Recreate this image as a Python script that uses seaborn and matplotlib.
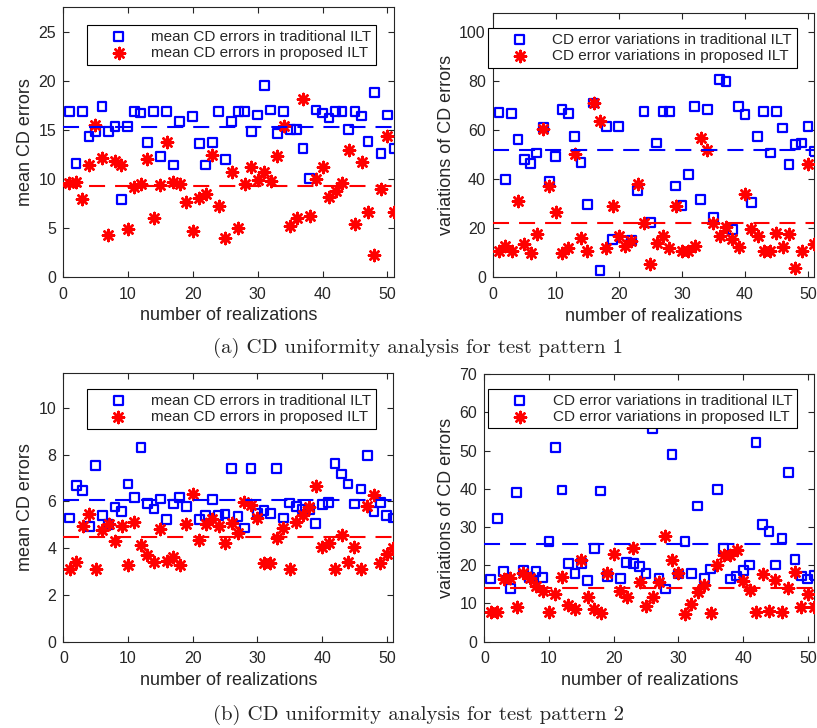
import numpy as np
import matplotlib.pyplot as plt
import seaborn as sns

nan = np.nan
realizations = np.arange(1, 52)

# pattern 1: mean CD errors
mean_trad_1 = [16.86, 11.53, 16.86, 14.3, 14.8, 17.4, 14.8, 15.3, 7.9, 15.3,
               16.86, 16.7, 13.7, 16.86, 12.3, 16.86, 11.4, 15.8, nan, 16.35,
               13.6, 11.4, 13.7, 16.86, 12.0, 15.8, 16.86, 16.86, 14.8, 16.5,
               19.5, 17.0, 14.65, 16.86, 15.0, 15.0, 13.1, 10.0, 17.0, 16.7,
               16.2, 16.86, 16.86, 15.0, 16.86, 16.4, 13.8, 18.8, 12.55, 16.5,
               13.1]
mean_prop_1 = [9.57, 9.63, 7.94, 11.36, 15.5, 12.1, 4.3, 11.8, 11.4, 4.9,
               9.16, 9.46, 12.04, 6.0, 9.33, 13.8, 9.67, 9.5, 7.63, 4.7,
               8.04, 8.48, 12.45, 7.2, 4.0, 10.7, 5.0, 9.5, 11.2, 9.9,
               10.7, 9.74, 12.3, 15.4, 5.16, 6.0, 18.15, 6.24, 10.0, 11.2,
               8.14, 8.8, 9.57, 12.96, 5.4, 11.7, 6.6, 2.27, 9.0, 14.4,
               6.6]
mean_avg_1 = (15.3, 9.3)

# pattern 1: CD error variations
var_trad_1 = [67.4, 39.9, 67.0, 56.2, 48.0, 46.4, 50.7, 61.1, 39.3, 49.4,
              68.4, 67.0, 57.5, 46.7, 29.85, 71.1, 2.7, 61.6, 15.5, 61.6,
              nan, 14.9, 35.3, 67.7, 22.3, 54.8, 67.7, 67.7, 37.3, 29.2,
              42.1, 69.7, 31.8, 68.4, 24.4, 80.7, 80.0, 19.5, 69.7, 66.4,
              30.5, 57.5, 67.7, 50.7, 67.7, 60.9, 46.1, 54.3, 54.8, 61.6,
              51.4]
var_prop_1 = [10.9, 12.9, 10.9, 31.1, 13.6, 10.0, 17.5, 60.4, 37.2, 26.5,
              10.0, 11.8, 50.2, 16.1, 10.9, 71.1, 63.6, 11.8, 29.0, 17.0,
              12.9, 14.9, 38.0, 22.3, 5.3, 14.1, 16.8, 11.8, 29.0, 10.9,
              10.9, 12.75, 57.0, 52.1, 22.3, 16.8, 20.4, 15.5, 12.2, 33.9,
              19.7, 16.8, 10.9, 10.9, 18.2, 12.2, 17.6, 3.7, 10.9, 46.1,
              13.6]
var_avg_1 = (51.8, 22.25)

# pattern 2: mean CD errors
mean_trad_2 = [5.29, 6.67, 6.46, 4.93, 7.53, 5.39, 5.0, 5.76, 5.57, 6.74,
               6.17, 8.29, 5.9, 5.67, 6.1, 5.21, 5.89, 6.17, 5.79, nan,
               5.21, 5.39, 6.07, 5.39, 5.46, 7.39, 5.36, 4.86, 7.39, 5.47,
               5.61, 5.47, 7.39, 5.29, 5.93, 5.79, 5.67, 5.64, 5.07, 5.86,
               5.96, 7.61, 7.17, 6.74, 5.89, 6.53, 7.97, 5.57, 5.96, 5.39,
               5.29]
mean_prop_2 = [3.11, 3.43, 4.93, 5.46, 3.11, 4.79, 5.03, 4.29, 4.96, 3.26,
               5.1, 4.14, 3.69, 3.43, 4.81, 3.47, 3.64, 3.29, 5.03, 6.31,
               4.36, 5.03, 5.24, 4.93, 4.24, 5.07, 4.64, 5.96, 5.86, 5.29,
               3.36, 3.36, 4.43, 4.86, 3.1, 5.14, 5.4, 5.74, 6.67, 4.04,
               4.24, 3.1, 4.57, 3.43, 4.07, 3.1, 5.81, 6.29, 3.36, 3.76,
               4.0]
mean_avg_2 = (6.07, 4.47)

# pattern 2: CD error variations
var_trad_2 = [16.4, 32.3, 18.3, 13.9, 39.0, 18.7, 16.8, 18.3, 16.8, 26.2,
              50.8, 39.7, 20.5, 17.9, 20.5, 16.0, 24.4, 39.4, 17.0, nan,
              16.5, 20.8, 20.4, 19.6, 17.9, 55.8, 16.6, 13.8, 49.0, 17.7,
              26.2, 17.9, 35.5, 16.6, 19.0, 39.8, 24.4, 16.4, 17.2, 18.7,
              20.05, 52.1, 30.7, 28.8, 20.05, 27.0, 44.2, 21.6, 17.2, 16.4,
              17.4]
var_prop_2 = [7.7, 7.7, 16.4, 16.6, 9.0, 17.9, 16.6, 14.6, 13.3, 7.7,
              12.5, 17.0, 9.6, 8.5, 21.3, 11.6, 8.5, 7.6, 18.1, 23.0,
              13.3, 11.6, 24.4, 15.5, 9.4, 11.6, 15.7, 27.7, 21.4, 17.9,
              7.2, 9.8, 12.9, 14.8, 7.6, 20.05, 22.7, 22.7, 24.1, 16.0,
              13.5, 7.7, 17.7, 8.1, 16.1, 7.7, 14.1, 18.3, 9.0, 12.4,
              9.0]
var_avg_2 = (25.5, 14.1)

mean_labels = ["mean CD errors in traditional ILT", "mean CD errors in proposed ILT"]
var_labels = ["CD error variations in traditional ILT", "CD error variations in proposed ILT"]
captions = ["(a) CD uniformity analysis for test pattern 1",
            "(b) CD uniformity analysis for test pattern 2"]

sns.set_style("ticks")
plt.rcParams["font.family"] = ["Liberation Sans", "DejaVu Sans"]
plt.rcParams["xtick.direction"] = "in"
plt.rcParams["ytick.direction"] = "in"

GREY = "#262626"

fig = plt.figure(figsize=(8.17, 7.28), dpi=100)


def draw_panel(pos, trad, prop, avg, ylim, yticks, ylabel, labels, anchor):
    ax = fig.add_axes(pos)
    sns.scatterplot(x=realizations, y=trad, ax=ax, marker="s", s=40,
                    facecolor="none", edgecolor="blue", linewidth=1.6,
                    label=labels[0], zorder=3)
    sns.scatterplot(x=realizations, y=prop, ax=ax, marker=(8, 2, 0), s=65,
                    color="red", edgecolor="red", linewidth=1.8,
                    label=labels[1], zorder=3)
    ax.axhline(avg[0], color="blue", lw=1.5, dashes=(7.7, 4.8), zorder=4)
    ax.axhline(avg[1], color="red", lw=1.5, dashes=(7.7, 4.8), zorder=4)

    ax.set_xlim(0, 51)
    ax.set_ylim(*ylim)
    ax.set_xticks([0, 10, 20, 30, 40, 50])
    ax.set_yticks(yticks)
    ax.tick_params(top=True, right=True, labelsize=11.5, colors=GREY,
                   length=4, width=0.8)
    ax.tick_params(axis="x", pad=7)
    ax.tick_params(axis="y", pad=5)
    for sp in ax.spines.values():
        sp.set_color(GREY)
        sp.set_linewidth(0.8)
        sp.set_visible(True)
    ax.set_xlabel("number of realizations", fontsize=13, color=GREY, labelpad=4)
    ax.set_ylabel(ylabel, fontsize=13, color=GREY, labelpad=3)

    leg = ax.legend(loc="upper right", bbox_to_anchor=anchor, borderaxespad=0,
                    frameon=True, fancybox=False, edgecolor="black",
                    framealpha=1, fontsize=11, handlelength=3.5,
                    handletextpad=0.4, labelspacing=0.15, borderpad=0.3)
    leg.get_frame().set_linewidth(0.8)
    for t in leg.get_texts():
        t.set_color(GREY)
    return ax


draw_panel([0.0771, 0.6195, 0.4051, 0.3709], mean_trad_1, mean_prop_1, mean_avg_1,
           (0, 27.5), [0, 5, 10, 15, 20, 25], "mean CD errors", mean_labels,
           (0.946, 0.933))
draw_panel([0.6031, 0.6191, 0.3936, 0.3635], var_trad_1, var_prop_1, var_avg_1,
           (0, 108), [0, 20, 40, 60, 80, 100], "variations of CD errors",
           var_labels, (0.945, 0.941))
draw_panel([0.0775, 0.1185, 0.4039, 0.3695], mean_trad_2, mean_prop_2, mean_avg_2,
           (0, 11.5), [0, 2, 4, 6, 8, 10], "mean CD errors", mean_labels,
           (0.9476, 0.939))
draw_panel([0.5928, 0.1185, 0.4039, 0.3677], var_trad_2, var_prop_2, var_avg_2,
           (0, 70), [0, 10, 20, 30, 40, 50, 60, 70], "variations of CD errors",
           var_labels, (0.9467, 0.944))

fig.text(0.512, 1 - 348 / 728, captions[0], ha="center", va="center",
         family="cmr10", fontsize=15)
fig.text(0.512, 1 - 715 / 728, captions[1], ha="center", va="center",
         family="cmr10", fontsize=15)

fig.savefig("out.png", dpi=100)
